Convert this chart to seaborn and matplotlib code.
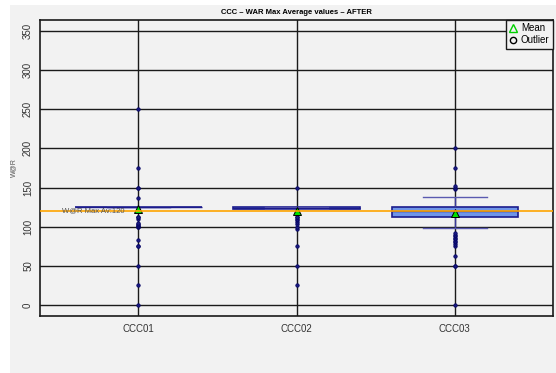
import numpy as np
import pandas as pd
import seaborn as sns
import matplotlib.pyplot as plt
from matplotlib.lines import Line2D
from matplotlib.patches import Rectangle

# W@R values per station (value, count)
ccc01_vals = [0, 25, 50, 75, 83, 100, 101, 102, 103, 105, 110, 112, 125, 137, 150, 175, 250]
ccc01_cnts = [1, 1, 1, 2, 1, 2, 1, 1, 1, 1, 1, 2, 120, 1, 2, 1, 1]

ccc02_vals = [25, 50, 75, 97, 100, 103, 106, 108, 110, 112, 113, 123, 124, 125, 150]
ccc02_cnts = [1, 1, 1, 1, 1, 1, 1, 1, 1, 1, 1, 25, 35, 25, 1]

ccc03_vals = [0, 50, 62, 75, 78, 80, 82, 84, 86, 88, 90, 92, 99, 100, 105, 110,
              112, 115, 118, 120, 122, 125, 128, 130, 135, 138, 148, 150, 152, 175, 200]
ccc03_cnts = [1, 2, 1, 1, 1, 1, 1, 1, 1, 1, 1, 1, 1, 2, 1, 2,
              33, 10, 10, 30, 20, 69, 1, 1, 1, 1, 1, 1, 1, 1, 1]

stations = ["CCC01", "CCC02", "CCC03"]
war_max_avg = 120

df = pd.concat([
    pd.DataFrame({"station": st, "war": np.repeat(v, c)})
    for st, v, c in zip(stations,
                        [ccc01_vals, ccc02_vals, ccc03_vals],
                        [ccc01_cnts, ccc02_cnts, ccc03_cnts])
])

plt.rcParams["font.family"] = ["Liberation Sans", "DejaVu Sans"]
bg = "#f2f2f2"

fig = plt.figure(figsize=(5.56, 3.73), dpi=100, facecolor="white")
# grey panel with a thin white margin on the top and left
panel = fig.add_axes([10 / 556, 0, 1, 1 - 5 / 373], zorder=-10)
panel.axis("off")
panel.add_patch(Rectangle((0, 0), 1, 1, transform=panel.transAxes, facecolor=bg, edgecolor="none"))

ax = fig.add_axes([40 / 556, 1 - 316 / 373, 513 / 556, 296 / 373])
ax.set_facecolor(bg)

sns.boxplot(data=df, x="station", y="war", order=stations, ax=ax, width=0.8,
            color="#6f95e8", linecolor="#1c1c8c", linewidth=1.2, saturation=1,
            whiskerprops=dict(color="#3a3a9a", lw=1),
            capprops=dict(color="#5a5ab0", lw=1),
            medianprops=dict(color="#1c1c8c", lw=1),
            flierprops=dict(marker="o", markersize=2.5, markerfacecolor="#1a1a80",
                            markeredgecolor="#000060", markeredgewidth=0.5),
            showmeans=True,
            meanprops=dict(marker="^", markersize=6, markerfacecolor="#00e000",
                           markeredgecolor="black", markeredgewidth=0.7))

ax.grid(True, color="#1a1a1a", lw=1)
ax.set_axisbelow(True)
ax.axhline(war_max_avg, color="#ffa500", lw=1.2, zorder=3)
ax.text(-0.48, war_max_avg, "W@R Max Av:" + str(war_max_avg), fontsize=5.5,
        color="#555555", ha="left", va="center", zorder=4)

ax.set_xlim(-0.62, 2.62)
ax.set_ylim(-14, 364)
ax.set_yticks(range(0, 351, 50))
ax.tick_params(axis="y", length=0, pad=5, labelsize=7, labelcolor="#333333", rotation=90)
ax.tick_params(axis="x", length=0, pad=6, labelsize=7, labelcolor="#333333")
for lbl in ax.get_yticklabels():
    lbl.set_va("center")
for s in ax.spines.values():
    s.set_color("#1a1a1a")
    s.set_linewidth(1.2)

ax.set_xlabel("")
ax.set_ylabel("W@R", fontsize=5, color="#555555", labelpad=4)
ax.set_title("CCC \u2013 WAR Max Average values \u2013 AFTER", fontsize=5.5,
             fontweight="bold", pad=4)

handles = [
    Line2D([], [], ls="none", marker="^", markersize=6, markerfacecolor="none",
           markeredgecolor="#00d000", markeredgewidth=1),
    Line2D([], [], ls="none", marker="o", markersize=4.5, markerfacecolor="none",
           markeredgecolor="black", markeredgewidth=1),
]
leg = ax.legend(handles, ["Mean", "Outlier"], loc="upper right", fontsize=7,
                frameon=True, fancybox=False, borderaxespad=0, handlelength=0.8,
                handletextpad=0.4, borderpad=0.35, labelspacing=0.2, facecolor=bg,
                edgecolor="#1a1a1a", framealpha=1)
leg.get_frame().set_linewidth(1)

fig.savefig("out.png", dpi=100, facecolor="white")
